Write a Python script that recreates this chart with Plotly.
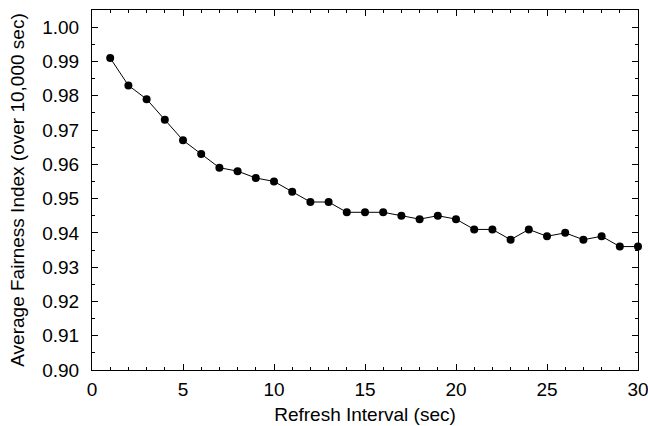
import plotly.graph_objects as go

refresh_interval = list(range(1, 31))
fairness = [0.991, 0.983, 0.979, 0.973, 0.967, 0.963, 0.959, 0.958, 0.956, 0.955,
            0.952, 0.949, 0.949, 0.946, 0.946, 0.946, 0.945, 0.944, 0.945, 0.944,
            0.941, 0.941, 0.938, 0.941, 0.939, 0.940, 0.938, 0.939, 0.936, 0.936]

fig = go.Figure()
fig.add_trace(go.Scatter(
    x=refresh_interval, y=fairness, mode="lines+markers",
    line=dict(color="black", width=1),
    marker=dict(color="black", size=8),
    cliponaxis=False, showlegend=False,
))

fam = "Liberation Sans, Arial, sans-serif"
fig.update_layout(
    width=648, height=426,
    margin=dict(l=92, r=10, t=10, b=56),
    paper_bgcolor="white", plot_bgcolor="white",
    font=dict(family=fam, size=19, color="black"),
)
fig.update_xaxes(
    range=[0, 30], tickmode="linear", tick0=0, dtick=5,
    ticks="inside", ticklen=6, tickcolor="black", ticklabelstandoff=2,
    tickfont=dict(size=19), ticklabeloverflow="allow", automargin=False,
    minor=dict(dtick=1, ticks="inside", ticklen=3, tickcolor="black"),
    showline=True, linecolor="black", linewidth=1, mirror="ticks",
    showgrid=False, zeroline=False,
    title=dict(text="Refresh Interval (sec)", standoff=8, font=dict(size=19)),
)
fig.update_yaxes(
    range=[0.90, 1.005], tickmode="linear", tick0=0.90, dtick=0.01, tickformat=".2f",
    ticks="inside", ticklen=6, tickcolor="black", ticklabelstandoff=8,
    tickfont=dict(size=19), ticklabeloverflow="allow", automargin=False,
    minor=dict(dtick=0.005, ticks="inside", ticklen=3, tickcolor="black"),
    showline=True, linecolor="black", linewidth=1, mirror="ticks",
    showgrid=False, zeroline=False,
    title=dict(text="Average Fairness Index (over 10,000 sec)", standoff=12, font=dict(size=19)),
)
fig.write_html(
    "out.html",
    config={"displayModeBar": False},
    post_script="document.body.style.margin='0';document.body.style.overflow='hidden';",
)
